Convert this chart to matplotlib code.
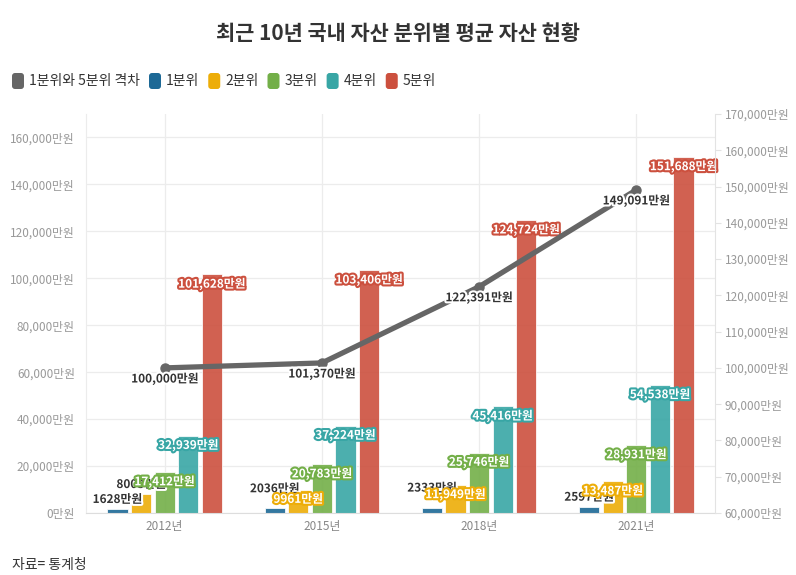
import numpy as np
import matplotlib.pyplot as plt
import matplotlib.patheffects as pe
from matplotlib.patches import FancyBboxPatch
from matplotlib.transforms import IdentityTransform

plt.rcParams['font.family'] = ['Noto Sans CJK KR', 'DejaVu Sans']

# 데이터
years = ['2012년', '2015년', '2018년', '2021년']
series_names = ['1분위', '2분위', '3분위', '4분위', '5분위']
q1 = [1628, 2036, 2333, 2597]
q2 = [8003, 9961, 11949, 13487]
q3 = [17412, 20783, 25746, 28931]
q4 = [32939, 37224, 45416, 54538]
q5 = [101628, 103406, 124724, 151688]
gap = [100000, 101370, 122391, 149091]
gap_name = '1분위와 5분위 격차'

colors = ['#1D6996', '#EDAD08', '#73AF48', '#38A6A5', '#CC503E']
gap_color = '#666666'
title = '최근 10년 국내 자산 분위별 평균 자산 현황'
source = '자료= 통계청'


def won(v):
    return (f'{v:,}' if v >= 10000 else f'{v}') + '만원'


W, H = 796, 575
fig = plt.figure(figsize=(W / 100, H / 100), dpi=100)
ax = fig.add_axes([86 / W, 62 / H, 629 / W, 399 / H])
ax2 = ax.twinx()

x = np.arange(len(years))
all_series = [q1, q2, q3, q4, q5]
step, bw = 0.15, 0.128

for i, (name, vals, c) in enumerate(zip(series_names, all_series, colors)):
    pos = x + (i - 2) * step
    ax.bar(pos, vals, bw, color=c, alpha=0.9, edgecolor='white', linewidth=0.6,
           zorder=2, label=name)

# 막대 라벨
blue_dy = [7, 14, 14, 7]
for i, (vals, c) in enumerate(zip(all_series, colors)):
    pos = x + (i - 2) * step
    for j, (px, v) in enumerate(zip(pos, vals)):
        if i == 0:
            dy, fc, sc = blue_dy[j], '#333333', 'white'
        elif i == 1 and v < 9000:
            dy, fc, sc = 7, '#333333', 'white'
        else:
            dy, fc, sc = -7, 'white', c
        ax.annotate(won(v), (px, v), xytext=(0, dy), textcoords='offset points',
                    ha='center', va='center', fontsize=8.5, fontweight='bold',
                    color=fc, zorder=5 + i,
                    path_effects=[pe.withStroke(linewidth=3, foreground=sc)])

# 격차 라인 (오른쪽 축)
ax2.plot(x, gap, color=gap_color, lw=3.8, marker='o', ms=6.5,
         solid_capstyle='round', zorder=3)
for px, v in zip(x, gap):
    ax2.annotate(won(v), (px, v), xytext=(0, -8), textcoords='offset points',
                 ha='center', va='center', fontsize=8.5, fontweight='bold',
                 color='#333333', zorder=6,
                 path_effects=[pe.withStroke(linewidth=3, foreground='white')])

# 축 설정
ax.set_xlim(-0.5, 3.5)
ax.set_ylim(0, 170000)
ax.set_yticks(range(0, 160001, 20000))
ax.set_yticklabels([f'{v:,}만원' for v in range(0, 160001, 20000)])
ax.set_xticks(x)
ax.set_xticklabels(years)
ax.tick_params(axis='y', length=0, pad=8, labelsize=8.5, labelcolor='#999999')
ax.tick_params(axis='x', length=0, pad=5, labelsize=8.5, labelcolor='#888888')
ax.grid(True, color='#ececec', linewidth=0.9)
ax.set_axisbelow(True)

ax2.set_ylim(60000, 170000)
ax2.set_yticks(range(60000, 170001, 10000))
ax2.set_yticklabels([f'{v:,}만원' for v in range(60000, 170001, 10000)])
ax2.tick_params(axis='y', length=4, width=0.8, color='#e3e3e3', pad=3,
                labelsize=8.5, labelcolor='#999999')

for s in ['top', 'right']:
    ax.spines[s].set_visible(False)
ax.spines['left'].set_color('#ececec')
ax.spines['bottom'].set_color('#dddddd')
for s in ['top', 'left', 'bottom']:
    ax2.spines[s].set_visible(False)
ax2.spines['right'].set_color('#e3e3e3')

# 제목
fig.text(0.5, 1 - 33 / H, title, ha='center', va='center', fontsize=15,
         fontweight='bold', color='#333333')

# 범례 (직접 그림)
renderer = fig.canvas.get_renderer()
cur = 12
ly = H - 81
legend_items = [(gap_name, gap_color)] + list(zip(series_names, colors))
for name, c in legend_items:
    fig.add_artist(FancyBboxPatch((cur, ly - 8), 12, 16,
                                  boxstyle='round,pad=0,rounding_size=3',
                                  transform=IdentityTransform(),
                                  facecolor=c, edgecolor='none'))
    t = fig.text((cur + 17) / W, ly / H, name, ha='left', va='center',
                 fontsize=10, color='#333333')
    bb = t.get_window_extent(renderer)
    cur = bb.x1 + 9

fig.text(12 / W, 1 - 565 / H, source, ha='left', va='center', fontsize=10,
         color='#333333')

fig.savefig('out.png', dpi=100)
